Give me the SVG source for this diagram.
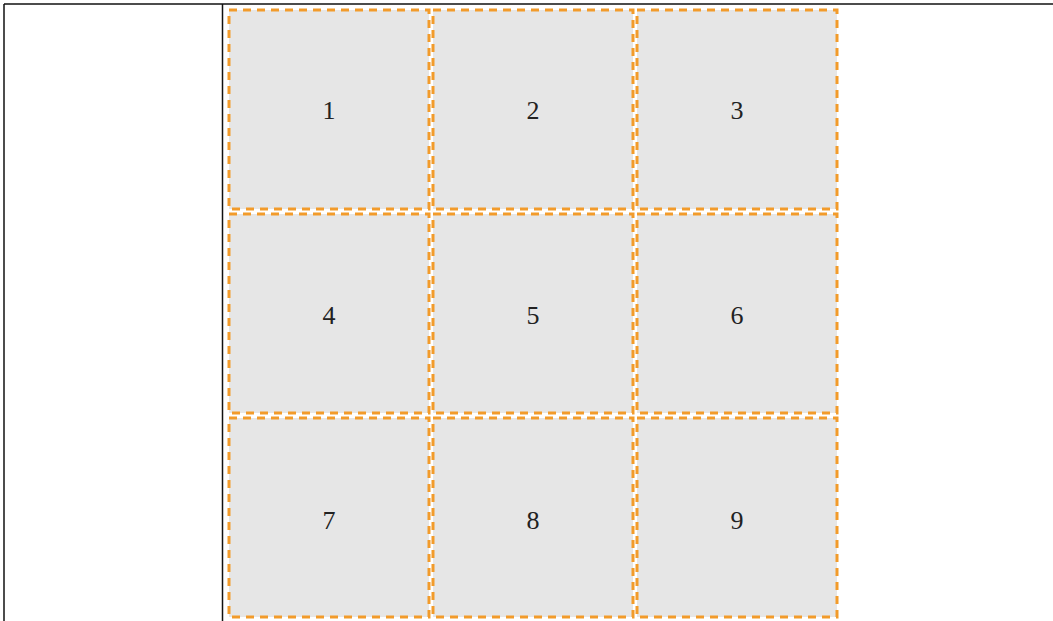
<svg xmlns="http://www.w3.org/2000/svg" width="1053" height="621" viewBox="0 0 1053 621">
<style>
.cell{fill:#e6e6e6;stroke:#f29b2b;stroke-width:3;stroke-dasharray:8 6}
.lbl{font-family:"Liberation Serif","Times New Roman",serif;font-size:26px;fill:#222;text-anchor:middle}
.frame{stroke:#111;stroke-width:1.5;fill:none}
</style>
<rect width="1053" height="621" fill="#fff"/>
<g id="frame">
<line class="frame" x1="4" y1="4" x2="1053" y2="4"/>
<line class="frame" x1="4" y1="4" x2="4" y2="621"/>
<line class="frame" x1="222.5" y1="4" x2="222.5" y2="621"/>
</g>
<g id="c1"><rect class="cell" x="229" y="10" width="200" height="199"/><text class="lbl" x="329" y="119">1</text></g>
<g id="c2"><rect class="cell" x="433" y="10" width="200" height="199"/><text class="lbl" x="533" y="119">2</text></g>
<g id="c3"><rect class="cell" x="637" y="10" width="200" height="199"/><text class="lbl" x="737" y="119">3</text></g>
<g id="c4"><rect class="cell" x="229" y="214" width="200" height="199"/><text class="lbl" x="329" y="324">4</text></g>
<g id="c5"><rect class="cell" x="433" y="214" width="200" height="199"/><text class="lbl" x="533" y="324">5</text></g>
<g id="c6"><rect class="cell" x="637" y="214" width="200" height="199"/><text class="lbl" x="737" y="324">6</text></g>
<g id="c7"><rect class="cell" x="229" y="418" width="200" height="199"/><text class="lbl" x="329" y="529">7</text></g>
<g id="c8"><rect class="cell" x="433" y="418" width="200" height="199"/><text class="lbl" x="533" y="529">8</text></g>
<g id="c9"><rect class="cell" x="637" y="418" width="200" height="199"/><text class="lbl" x="737" y="529">9</text></g>
<g id="connectors"></g>
</svg>
